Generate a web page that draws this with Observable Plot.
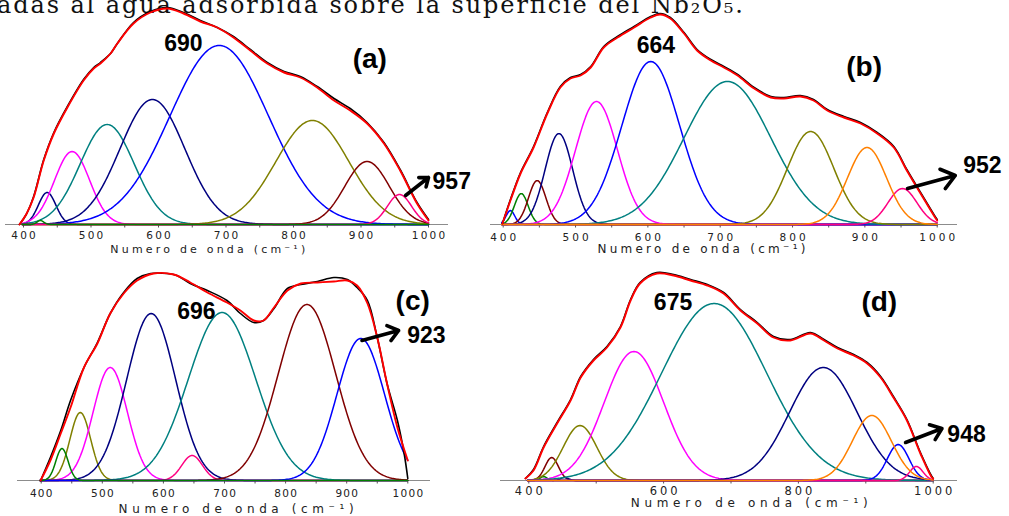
<!DOCTYPE html>
<html>
<head>
<meta charset="utf-8">
<script src="https://cdn.jsdelivr.net/npm/d3@7"></script>
<script src="https://cdn.jsdelivr.net/npm/@observablehq/plot@0.6"></script>
<style>
  body { margin: 0; background: #fff; }
  #fig { position: relative; width: 1009px; height: 516px; overflow: hidden; background: #fff; }
  #fig > svg, #fig > figure { position: absolute; margin: 0; }
</style>
</head>
<body>
<div id="fig"></div>
<script>
// ---------------- data ----------------
// Wavenumber (cm-1) and absorbance (a.u.) of the measured spectrum (exp) and the fitted envelope (fit),
// plus the Gaussian bands of each deconvolution: centre (cm-1), height (a.u.) and sigma (cm-1).

// (a)
const aFitX = [394, 404, 415, 430, 445, 465, 489, 504, 514, 529, 539, 563, 588, 613, 637, 662, 687, 711, 736, 761, 786, 810, 835, 860, 884, 909, 934, 958, 983, 1000];
const aFitY = [0, 10, 27, 64, 91, 117, 144, 156, 161, 171, 181, 201, 212, 216, 211, 203, 197, 187, 174, 161, 152, 147, 137, 124, 114, 101, 81, 54, 21, 4];
const aExpY = [0, 10, 28, 65, 92, 118, 145, 157, 162, 171, 181, 202, 213, 217, 212, 204, 197, 188, 175, 162, 153, 148, 138, 126, 116, 102, 82, 55, 22, 5];
const aBandCenter = [435, 472, 524, 591, 690, 828, 909, 957, 425];
const aBandHeight = [32, 73, 100, 125, 179, 104, 63, 30, 4];
const aBandSigma  = [13, 26, 40, 48, 73, 54, 33, 18, 5];

// (b)
const bFitX = [399, 410, 424, 442, 461, 479, 493, 507, 521, 539, 558, 581, 604, 617, 631, 650, 668, 687, 705, 724, 747, 770, 788, 811, 829, 848, 871, 894, 917, 940, 958, 977, 998, 1000];
const bFitY = [1, 24, 51, 77, 111, 137, 146, 149, 157, 177, 187, 197, 207, 210, 206, 191, 174, 164, 157, 149, 136, 127, 126, 128, 124, 114, 107, 101, 91, 77, 54, 31, 6, 4];
const bExpY = [1, 25, 52, 78, 112, 138, 147, 150, 158, 178, 188, 198, 208, 211, 207, 192, 175, 165, 158, 150, 137, 128, 127, 129, 125, 115, 108, 102, 92, 78, 55, 32, 7, 5];
const bBandCenter = [410, 425, 447, 477, 529, 604, 710, 825, 952, 903];
const bBandHeight = [14, 31, 44, 91, 123, 163, 143, 93, 36, 77];
const bBandSigma  = [6, 9.5, 12, 19, 29, 40, 60, 32, 20, 27];

// (c)
const cFitX = [399, 415, 432, 448, 470, 492, 513, 535, 557, 584, 617, 644, 672, 704, 726, 748, 764, 781, 803, 825, 852, 879, 901, 917, 934, 950, 966, 983, 1000];
const cFitY = [0, 20, 47, 73, 113, 137, 167, 187, 200, 207, 206, 198, 188, 178, 170, 160, 160, 173, 190, 197, 198, 199, 200, 195, 177, 143, 97, 53, 20];
const cExpX = [399, 415, 432, 448, 470, 492, 513, 535, 557, 579, 606, 622, 644, 672, 704, 726, 748, 764, 781, 803, 825, 852, 879, 901, 917, 934, 950, 966, 983, 994, 1000];
const cExpY = [0, 23, 50, 80, 113, 138, 167, 188, 202, 207, 207, 205, 197, 190, 180, 167, 158, 160, 172, 192, 196, 199, 203, 201, 193, 180, 143, 97, 60, 27, 2];
const cBandCenter = [464, 513, 580, 647, 696, 835, 923, 434];
const cBandHeight = [68, 113, 167, 25, 168, 176, 142, 32];
const cBandSigma  = [17, 28, 40, 17, 55, 47, 39, 10];

// (d)
const dFitX = [395, 407, 422, 442, 462, 477, 496, 516, 536, 551, 565, 590, 615, 640, 665, 689, 714, 739, 763, 788, 818, 838, 858, 882, 902, 922, 941, 961, 981, 998, 1000];
const dFitY = [2, 10, 33, 57, 80, 103, 120, 133, 153, 180, 197, 207, 205, 200, 195, 187, 170, 157, 143, 140, 147, 140, 132, 125, 117, 103, 83, 60, 27, 3, 2];
const dExpY = [2, 11, 34, 58, 81, 104, 121, 134, 154, 181, 198, 208, 206, 201, 196, 188, 171, 158, 144, 141, 148, 141, 133, 126, 118, 104, 84, 61, 28, 4, 2];
const dBandCenter = [422, 434, 453, 476, 556, 675, 837, 948, 975, 909];
const dBandHeight = [4, 23, 3, 55, 129, 177, 113, 36, 14, 65];
const dBandSigma  = [5, 10, 6, 25, 44, 78, 50, 16, 10, 29];

// tick labels and annotation texts
const ticksFine = [400, 500, 600, 700, 800, 900, 1000];
const ticksCoarse = [400, 600, 800, 1000];
const panelTags = ["(a)", "(b)", "(c)", "(d)"];
const peakLabels = ["690", "664", "696", "675"];
const axisTitle = "Numero de onda (cm⁻¹)";
const headerText = "adas al agua adsorbida sobre la superficie del Nb₂O₅.";

// ---------------- styles ----------------
const NAVY = "#000080", MAG = "#ff00ff", TEAL = "#008080", BLUE = "#0000ff", OLIVE = "#808000",
      MAROON = "#800000", PINK = "#ff0080", GREEN = "#008000", ORANGE = "#ff8000";

const panels = [
  {
    fitX: aFitX, fitY: aFitY, expX: aFitX, expY: aExpY,
    center: aBandCenter, height: aBandHeight, sigma: aBandSigma,
    colors: [NAVY, MAG, TEAL, NAVY, BLUE, OLIVE, MAROON, PINK, GREEN],
    ticks: ticksFine, tag: panelTags[0], peakText: peakLabels[0],
    box: {left: 0, top: 0, width: 490, height: 258, baseline: 224, px400: 23, px1000: 428, axisL: 5, axisR: 448},
    minorStep: 50, tickDy: 11, tickSize: 10.5, tickLs: 2.2, titleX: 673, titleDy: 24.5, titleSize: 11, titleW: 195,
    peak: {band: 4, dx: -53, dy: 2}, tagPos: [913, 165],
    arrow: {band: 7, x1: 9, y1: -1, x2: 43, y2: 17, lx: 49, ly: 12.5}
  },
  {
    fitX: bFitX, fitY: bFitY, expX: bFitX, expY: bExpY,
    center: bBandCenter, height: bBandHeight, sigma: bBandSigma,
    colors: [BLUE, GREEN, MAROON, NAVY, MAG, BLUE, TEAL, OLIVE, PINK, ORANGE],
    ticks: ticksFine, tag: panelTags[1], peakText: peakLabels[1],
    box: {left: 490, top: 0, width: 519, height: 258, baseline: 224, px400: 502.7, px1000: 936.7, axisL: 490, axisR: 957},
    minorStep: 50, tickDy: 12.7, tickSize: 10.5, tickLs: 3, titleX: 674, titleDy: 25, titleSize: 12, titleW: 208,
    peak: {band: 5, dx: 7, dy: 16}, tagPos: [899, 157],
    arrow: {band: 8, x1: 7, y1: 0, x2: 73, y2: 13, lx: 84, ly: 23}
  },
  {
    fitX: cFitX, fitY: cFitY, expX: cExpX, expY: cExpY,
    center: cBandCenter, height: cBandHeight, sigma: cBandSigma,
    colors: [OLIVE, MAG, NAVY, PINK, TEAL, MAROON, BLUE, GREEN],
    ticks: ticksFine, tag: panelTags[2], peakText: peakLabels[2],
    box: {left: 0, top: 258, width: 490, height: 258, baseline: 480, px400: 40.7, px1000: 407.3, axisL: 17, axisR: 430},
    minorStep: 50, tickDy: 13, tickSize: 10.5, tickLs: 1.3, titleX: 719, titleDy: 29, titleSize: 12, titleW: 235,
    peak: {band: 4, dx: -42, dy: 1}, tagPos: [1008, 179],
    arrow: {band: 6, x1: 2, y1: -2, x2: 62, y2: 8, lx: 76, ly: 2.5}
  },
  {
    fitX: dFitX, fitY: dFitY, expX: dFitX, expY: dExpY,
    center: dBandCenter, height: dBandHeight, sigma: dBandSigma,
    colors: [GREEN, MAROON, NAVY, OLIVE, MAG, TEAL, NAVY, BLUE, PINK, ORANGE],
    ticks: ticksCoarse, tag: panelTags[3], peakText: peakLabels[3],
    box: {left: 490, top: 258, width: 519, height: 258, baseline: 480, px400: 528.3, px1000: 932.7, axisL: 500, axisR: 957},
    minorStep: 100, tickDy: 10.7, tickSize: 11.5, tickLs: 3, titleX: 727, titleDy: 23, titleSize: 12, titleW: 237,
    peak: {band: 5, dx: -61, dy: 1}, tagPos: [920, 178],
    arrow: {band: 7, x1: 11, y1: 2, x2: 65, y2: 16, lx: 73, ly: 10}
  }
];

const fig = d3.select("#fig");

// running header line of the page, cut by the top edge
const header = fig.append("svg")
  .attr("width", 1009).attr("height", 30)
  .style("left", "0px").style("top", "0px");
header.append("text")
  .attr("x", -3).attr("y", 12.5)
  .attr("font-family", "'DejaVu Serif', 'Liberation Serif', serif")
  .attr("font-size", 24)
  .attr("fill", "#111")
  .attr("textLength", 746)
  .text(headerText);

const SANS = "'Liberation Sans', Arial, sans-serif";
const grid = d3.range(398, 1001, 2);

for (const p of panels) {
  const b = p.box;
  const k = (b.px1000 - b.px400) / 600;
  const x0 = 400 - (b.px400 - b.axisL) / k;
  const x1 = 1000 + (b.axisR - b.px1000) / k;
  const inner = b.baseline - b.top;

  const bands = p.center.map((c, i) => ({c, h: p.height[i], s: p.sigma[i], color: p.colors[i]}));
  const bandMarks = bands.map(bd =>
    Plot.line(grid.map(x => ({x, y: bd.h * Math.exp(-((x - bd.c) ** 2) / (2 * bd.s * bd.s))})),
      {x: "x", y: "y", stroke: bd.color, strokeWidth: 1.5})
  );

  const exp = p.expX.map((x, i) => ({x, y: p.expY[i]}));
  const fit = p.fitX.map((x, i) => ({x, y: p.fitY[i]}));
  const pk = bands[p.peak.band];
  const ar = bands[p.arrow.band];
  const a = p.arrow;

  const svg = Plot.plot({
    width: b.width, height: b.height,
    marginLeft: b.axisL - b.left, marginRight: b.left + b.width - b.axisR,
    marginTop: 0, marginBottom: b.height - inner,
    x: {domain: [x0, x1], axis: null},
    y: {domain: [0, inner], axis: null},
    style: {background: "transparent", overflow: "visible", fontFamily: SANS},
    marks: [
      Plot.ruleY([0], {stroke: "#8c8c8c", strokeWidth: 1}),
      Plot.ruleX(d3.range(400, 1001, p.minorStep), {x: d => d, y1: 0, y2: -3.5, stroke: "#555"}),
      ...bandMarks,
      Plot.line(exp, {x: "x", y: "y", stroke: "#000", strokeWidth: 1.6, curve: "catmull-rom"}),
      Plot.line(fit, {x: "x", y: "y", stroke: "#ff0000", strokeWidth: 1.9, curve: "catmull-rom"}),
      Plot.text(p.ticks, {x: d => d, y: -p.tickDy, text: d => String(d), dx: p.tickLs / 2,
        fontSize: p.tickSize, fontFamily: "'DejaVu Sans', sans-serif", fill: "#222", lineAnchor: "middle"}),
      Plot.text([axisTitle], {x: () => p.titleX, y: () => -p.titleDy, text: d => d,
        fontSize: p.titleSize, fontFamily: "'DejaVu Sans', sans-serif", fill: "#222", lineAnchor: "middle"}),
      Plot.text([pk], {x: d => d.c + p.peak.dx, y: d => d.h + p.peak.dy, text: () => p.peakText,
        fontSize: 23, fontWeight: "bold", fill: "#000", lineAnchor: "middle"}),
      Plot.text([p.tag], {x: () => p.tagPos[0], y: () => p.tagPos[1], text: d => d,
        fontSize: 28, fontWeight: "bold", fill: "#000", lineAnchor: "middle"}),
      Plot.arrow([ar], {x1: d => d.c + a.x1, y1: d => d.h + a.y1, x2: d => d.c + a.x2, y2: d => d.h + a.y2,
        stroke: "#000", strokeWidth: 3.6, headLength: 16, headAngle: 75}),
      Plot.text([ar], {x: d => d.c + a.lx, y: d => d.h + a.ly, text: d => String(d.c),
        textAnchor: "start", fontSize: 23, fontWeight: "bold", fill: "#000", lineAnchor: "middle"})
    ]
  });

  const s = d3.select(svg);
  s.style("left", b.left + "px").style("top", b.top + "px").style("position", "absolute");
  s.selectAll("text").each(function () {
    const t = this.textContent;
    if (t === axisTitle) {
      d3.select(this).attr("textLength", p.titleW).attr("lengthAdjust", "spacing");
    } else if (p.ticks.includes(+t) && /^\d+$/.test(t) && !p.center.includes(+t)) {
      d3.select(this).attr("letter-spacing", p.tickLs);
    }
  });
  fig.node().appendChild(svg);
}
</script>
</body>
</html>
